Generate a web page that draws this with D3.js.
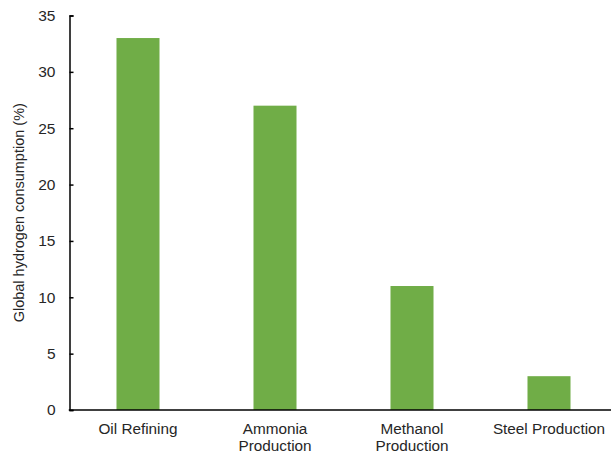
<!DOCTYPE html>
<html>
<head>
<meta charset="utf-8">
<script src="https://cdn.jsdelivr.net/npm/d3@7"></script>
<style>
  html, body { margin: 0; padding: 0; background: #fff; }
  svg { display: block; font-family: "Liberation Sans", Arial, sans-serif; }
</style>
</head>
<body>
<svg id="chart" width="611" height="455"></svg>
<script>
// Share of global hydrogen consumption by end use
const categories = [["Oil Refining"], ["Ammonia", "Production"], ["Methanol", "Production"], ["Steel Production"]];
const values = [33, 27, 11, 3];
const yTicks = [0, 5, 10, 15, 20, 25, 30, 35];
const yTitle = "Global hydrogen consumption (%)";

const svg = d3.select("#chart");
const plotLeft = 69.5, plotBottom = 410, plotTop = 15.5;
const keys = categories.map(c => c.join(" "));

const x = d3.scaleBand()
  .domain(keys)
  .range([plotLeft, plotLeft + 548])
  .paddingInner(0.686)
  .paddingOuter(0.343);

const y = d3.scaleLinear().domain([0, 35]).range([plotBottom, plotTop]);

const textColor = "#262626";

// bars
svg.append("g").selectAll("rect")
  .data(values)
  .join("rect")
  .attr("x", (d, i) => x(keys[i]))
  .attr("width", x.bandwidth())
  .attr("y", d => y(d))
  .attr("height", d => y(0) - y(d))
  .attr("fill", "#70AD47");

// y axis: ticks point inward
const yAxis = svg.append("g")
  .attr("transform", `translate(${plotLeft},0)`)
  .call(d3.axisLeft(y).tickValues(yTicks).tickSizeInner(-4).tickSizeOuter(-4).tickPadding(14));
yAxis.select(".domain").attr("stroke", "#000").attr("stroke-width", 1.5);
yAxis.selectAll(".tick line").attr("stroke", "#000").attr("stroke-width", 1.5);
yAxis.selectAll(".tick text")
  .attr("font-size", 15.5)
  .attr("fill", textColor)
  .attr("font-family", "Liberation Sans, Arial, sans-serif");

// x axis baseline spanning the full width
svg.append("line")
  .attr("x1", plotLeft - 0.75).attr("x2", 611)
  .attr("y1", plotBottom).attr("y2", plotBottom)
  .attr("stroke", "#000").attr("stroke-width", 1.5);

// category labels (wrapped)
const labels = svg.append("g").selectAll("text")
  .data(categories)
  .join("text")
  .attr("text-anchor", "middle")
  .attr("font-size", 15.3)
  .attr("fill", textColor)
  .attr("transform", (d, i) => `translate(${x(keys[i]) + x.bandwidth() / 2},${plotBottom + 24})`);
labels.selectAll("tspan")
  .data(d => d)
  .join("tspan")
  .attr("x", 0)
  .attr("dy", (d, j) => j === 0 ? 0 : 17)
  .text(d => d);

// y axis title
svg.append("text")
  .attr("transform", `translate(24,${(y(0) + y(35)) / 2})rotate(-90)`)
  .attr("text-anchor", "middle")
  .attr("font-size", 14.5)
  .attr("fill", textColor)
  .text(yTitle);
</script>
</body>
</html>
